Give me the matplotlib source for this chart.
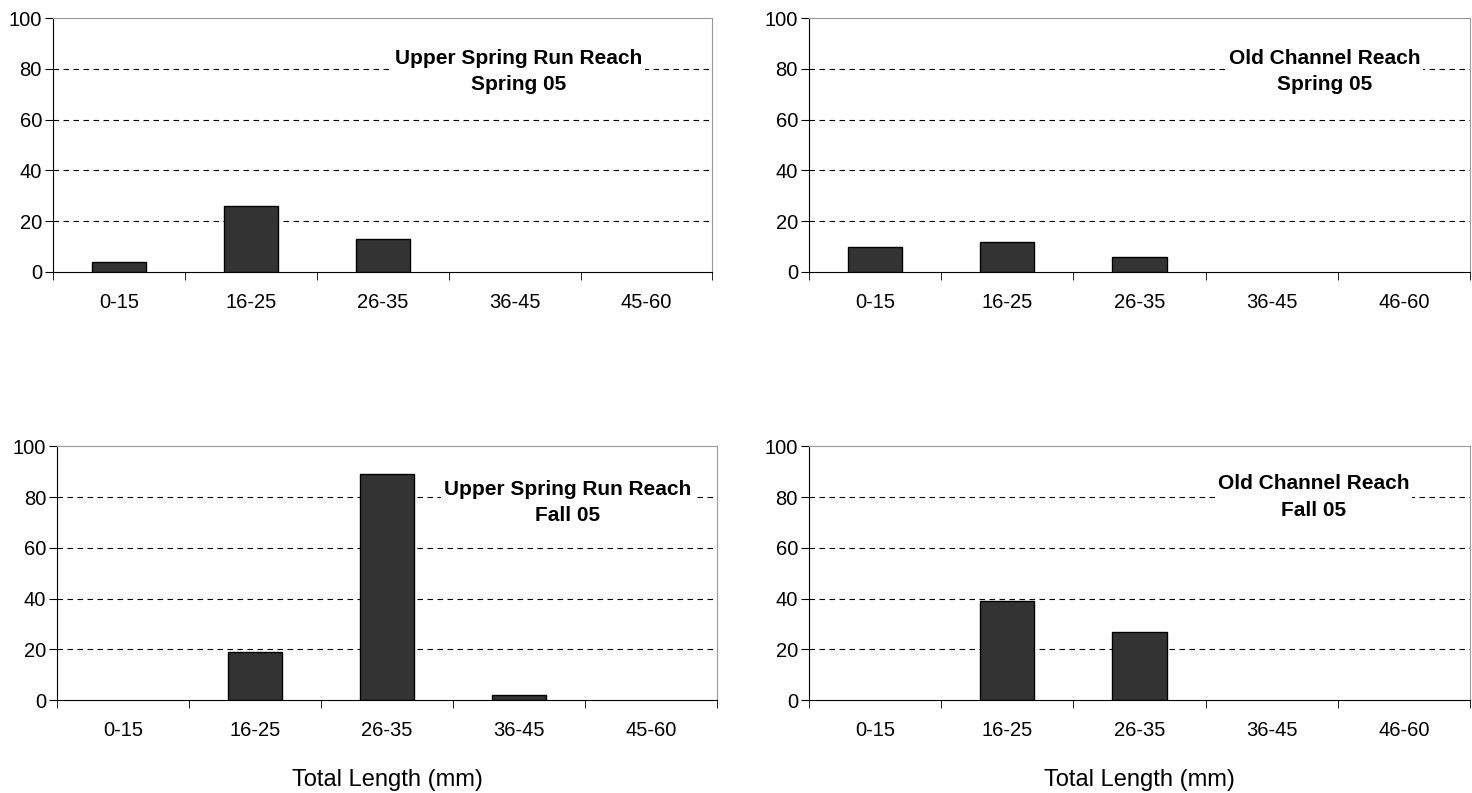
import numpy as np
import matplotlib.pyplot as plt
import matplotlib.transforms as mtransforms

plt.rcParams['font.family'] = ['Liberation Sans', 'DejaVu Sans']

cats_usr = ["0-15", "16-25", "26-35", "36-45", "45-60"]
cats_oc = ["0-15", "16-25", "26-35", "36-45", "46-60"]

usr_spring = [4, 26, 13, 0, 0]
oc_spring = [10, 12, 6, 0, 0]
usr_fall = [0, 19, 89, 2, 0]
oc_fall = [0, 39, 27, 0, 0]

panels = [
    # values, categories, label, axes rect, text x (axes frac), text y (data), xlabel?
    (usr_spring, cats_usr, "Upper Spring Run Reach\nSpring 05", [0.036, 0.657, 0.448, 0.320], 0.706, 79, False),
    (oc_spring, cats_oc, "Old Channel Reach\nSpring 05", [0.5496, 0.657, 0.449, 0.320], 0.78, 79, False),
    (usr_fall, cats_usr, "Upper Spring Run Reach\nFall 05", [0.039, 0.117, 0.448, 0.320], 0.774, 78, True),
    (oc_fall, cats_oc, "Old Channel Reach\nFall 05", [0.5496, 0.117, 0.449, 0.320], 0.764, 80, True),
]

fig = plt.figure(figsize=(14.72, 7.93), dpi=100)

for vals, cats, label, rect, tx, ty, xl in panels:
    ax = fig.add_axes(rect)
    x = np.arange(len(cats))
    vals = np.array(vals, dtype=float)
    lw = np.where(vals > 0, 1.0, 0.0)
    ax.bar(x, vals, width=0.41, color="#333333", edgecolor="black", linewidth=lw, zorder=3)
    ax.set_xlim(-0.5, len(cats) - 0.5)
    ax.set_ylim(0, 100)
    ax.set_yticks([0, 20, 40, 60, 80, 100])
    ax.tick_params(axis="y", labelsize=14.5, length=6, direction="out", pad=2)
    ax.set_xticks(x)
    ax.set_xticklabels(cats, fontsize=14.5)
    ax.tick_params(axis="x", which="major", length=0, pad=15)
    ax.set_xticks(np.arange(len(cats) + 1) - 0.5, minor=True)
    ax.tick_params(axis="x", which="minor", length=6, direction="out")
    for yy in [20, 40, 60, 80]:
        ax.axhline(yy, color="black", linestyle=(0, (5, 4)), linewidth=0.8, zorder=1)
    ax.spines["top"].set_color("#9a9a9a")
    ax.spines["right"].set_color("#9a9a9a")

    trans = mtransforms.blended_transform_factory(ax.transAxes, ax.transData)
    ax.text(tx, ty, label, transform=trans, fontsize=15, fontweight="bold",
            ha="center", va="center", linespacing=1.5,
            bbox=dict(facecolor="white", edgecolor="none", pad=2), zorder=4)
    if xl:
        ax.set_xlabel("Total Length (mm)", fontsize=17, labelpad=21)

fig.savefig("out.png", dpi=100)
